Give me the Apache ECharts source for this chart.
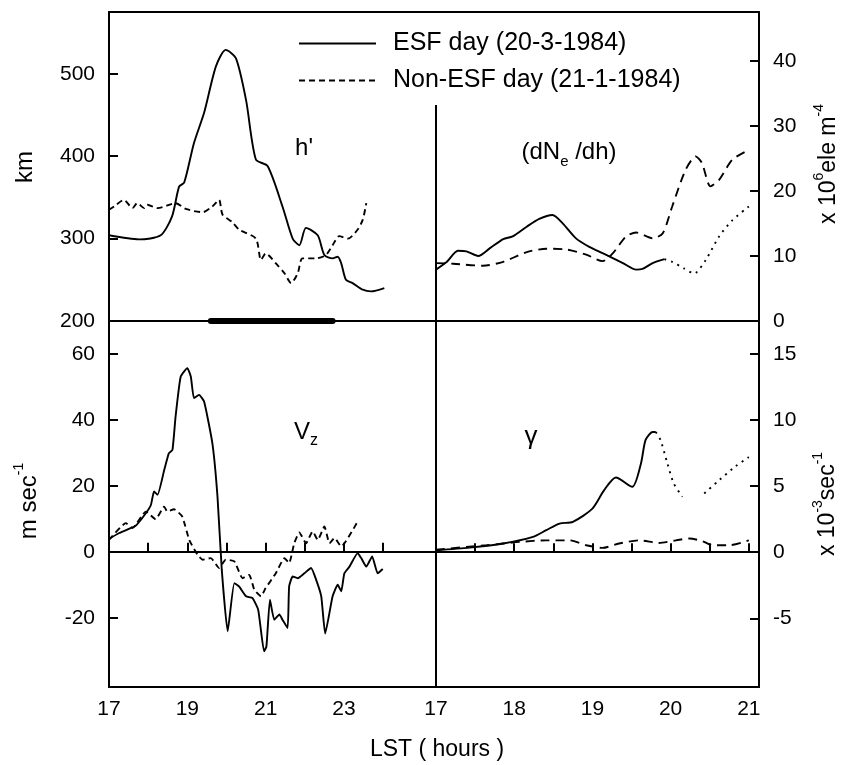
<!DOCTYPE html>
<html>
<head>
<meta charset="utf-8">
<script src="https://cdn.jsdelivr.net/npm/echarts@6/dist/echarts.min.js"></script>
<style>
  html, body { margin: 0; padding: 0; background: #fff; }
  #main { width: 844px; height: 765px; }
</style>
</head>
<body>
<div id="main"></div>
<script>
// 数据：LST (hours) 与各参数
var FONT = 'Liberation Sans';
var ESF = 'ESF day (20-3-1984)';
var NON = 'Non-ESF day (21-1-1984)';

// h' (km)
var hEsfT = [17.0, 17.77, 18.32, 18.61, 18.79, 18.92, 19.17, 19.43, 19.73, 19.98, 20.24, 20.5, 20.75, 21.05, 21.43, 21.69, 21.86, 22.03, 22.33, 22.5, 22.71, 22.84, 22.93, 23.05, 23.22, 23.48, 23.69, 24.03];
var hEsf = [304, 299, 304, 327, 363, 368, 416, 453, 509, 529, 519, 468, 396, 388, 339, 300, 292, 313, 304, 280, 276, 278, 270, 250, 246, 238, 236, 240];
var hNonT = [17.0, 17.13, 17.38, 17.6, 17.72, 17.9, 17.98, 18.24, 18.7, 18.96, 19.39, 19.64, 19.81, 19.9, 20.15, 20.32, 20.75, 20.88, 21.0, 21.26, 21.48, 21.65, 21.82, 21.94, 22.29, 22.54, 22.71, 22.88, 23.1, 23.35, 23.48, 23.57];
var hNon = [335, 339, 347, 337, 343, 337, 341, 337, 343, 336, 332, 339, 347, 329, 320, 311, 300, 274, 282, 270, 258, 246, 258, 276, 276, 280, 292, 303, 300, 311, 323, 343];
var esfPeriod = [19.6, 22.71];

// dNe/dh (x10^6 ele m^-4)
var dEsfT = [17.0, 17.14, 17.28, 17.39, 17.54, 17.69, 17.86, 17.98, 18.16, 18.32, 18.49, 18.62, 18.79, 18.96, 19.17, 19.39, 19.56, 19.64, 19.77, 19.92];
var dEsf = [7.9, 9.1, 10.8, 10.7, 10.0, 11.2, 12.6, 13.0, 14.5, 15.7, 16.3, 15.0, 12.7, 11.4, 10.2, 8.9, 7.9, 8.0, 8.9, 9.5];
var dEsfDotT = [19.92, 20.02, 20.17, 20.3, 20.45, 20.62, 20.79, 21.0];
var dEsfDot = [9.5, 9.1, 8.1, 7.3, 9.4, 13.0, 15.5, 17.6];
var dNonT = [17.0, 17.22, 17.6, 17.86, 18.16, 18.41, 18.66, 18.92, 19.13, 19.26, 19.43, 19.56, 19.77, 19.9, 20.02, 20.19, 20.32, 20.4, 20.51, 20.62, 20.79, 21.0];
var dNon = [8.9, 8.8, 8.5, 9.1, 10.6, 11.1, 11.0, 10.2, 9.2, 10.4, 13.0, 13.6, 12.7, 13.5, 17.6, 23.2, 25.3, 24.3, 20.7, 21.7, 24.8, 26.3];

// Vz (m sec^-1)
var vEsfT = [17.0, 17.26, 17.68, 17.94, 18.07, 18.15, 18.24, 18.41, 18.53, 18.62, 18.7, 18.83, 19.0, 19.09, 19.17, 19.3, 19.43, 19.64, 19.77, 19.88, 20.03, 20.2, 20.32, 20.5, 20.66, 20.81, 20.96, 21.02, 21.11, 21.22, 21.35, 21.43, 21.56, 21.6, 21.69, 21.82, 21.99, 22.16, 22.29, 22.42, 22.52, 22.71, 22.84, 22.93, 23.01, 23.14, 23.35, 23.44, 23.57, 23.72, 23.86, 23.99];
var vEsf = [3.9, 5.7, 7.9, 11.7, 14.2, 18.3, 17.3, 24.8, 29.9, 30.9, 41, 53.1, 55.7, 53.1, 46.6, 47.6, 45.5, 32.9, 16.8, -5.5, -24.1, -9.5, -10.5, -13.5, -14, -17.6, -30.2, -28.7, -14.5, -20.6, -19, -20.6, -23.1, -10.5, -7.5, -8, -6.5, -4.9, -8.5, -13.5, -24.8, -13.5, -10, -12, -6.5, -4.5, -0.4, -1.9, -4.5, -1.4, -6.5, -5.2];
var vNonT = [17.0, 17.43, 17.6, 17.94, 18.19, 18.41, 18.49, 18.66, 18.87, 19.05, 19.26, 19.39, 19.6, 19.81, 19.98, 20.2, 20.41, 20.58, 20.71, 20.88, 21.0, 21.26, 21.48, 21.6, 21.73, 21.86, 22.03, 22.2, 22.33, 22.5, 22.63, 22.76, 22.93, 23.35];
var vNon = [3.6, 8.7, 7.2, 12.2, 9.9, 13.7, 12.2, 12.9, 10.7, 3.6, -0.9, -2.4, -1.9, -4.9, -2.4, -2.9, -8, -7, -11.5, -13.5, -11, -6.5, -1.9, -3.4, 2.6, 5.9, 2.6, 6.2, 3.6, 7.7, 2.6, 4.2, 1.6, 9.2];

// gamma (x10^-3 sec^-1)
var gEsfT = [17.0, 17.43, 17.86, 18.24, 18.41, 18.58, 18.75, 19.0, 19.15, 19.3, 19.51, 19.62, 19.68, 19.77, 19.81];
var gEsf = [0.15, 0.35, 0.66, 1.16, 1.67, 2.17, 2.3, 3.3, 4.7, 5.66, 4.95, 6.7, 8.5, 9.1, 9.1];
var gEsfDotT = [19.81, 19.87, 19.96, 20.04, 20.15, 20.29, 20.43, 20.62, 20.83, 21.0];
var gEsfDot = [9.1, 8.5, 6.7, 5.2, 4.2, null, 4.45, 5.45, 6.5, 7.2];
var gNonT = [17.0, 17.65, 18.07, 18.41, 18.71, 18.92, 19.13, 19.34, 19.6, 19.85, 20.07, 20.24, 20.41, 20.53, 20.75, 21.0];
var gNon = [0.2, 0.53, 0.78, 0.9, 0.9, 0.53, 0.33, 0.66, 0.9, 0.7, 0.9, 1.04, 0.83, 0.53, 0.53, 0.9];

// 刻度
var leftHourLabels = [17, 19, 21, 23];
var leftHourTicks = [18, 19, 20, 21, 22, 23, 24];
var rightHourLabels = [17, 18, 19, 20, 21];
var rightHourTicks = [17.5, 18, 18.5, 19, 19.5, 20, 20.5, 21];
var hLabels = [200, 300, 400, 500];
var hTicks = [300, 400, 500];
var dLabels = [0, 10, 20, 30, 40];
var dTicks = [10, 20, 30, 40];
var vLabels = [-20, 0, 20, 40, 60];
var vTicks = [-20, 20, 40, 60];
var gLabels = [-5, 0, 5, 10, 15];
var gTicks = [-5, 5, 10, 15];

function pairs(t, v) {
	return t.map(function(x, i) { return [x, v[i]]; });
}

var black = '#000';
var lineW = 1.9;

function xAx(grid, min, max, pos, labels, ticks) {
	return {
		type : 'value', gridIndex : grid, min : min, max : max, position : pos,
		splitLine : { show : false },
		axisLine : { show : true, lineStyle : { color : black, width : 2 } },
		axisTick : ticks ? { show : true, inside : true, length : 9, customValues : ticks, lineStyle : { color : black, width : 2 } } : { show : false },
		axisLabel : labels ? { show : true, customValues : labels, margin : 12, color : black, fontFamily : FONT, fontSize : 21 } : { show : false }
	};
}

function yAx(grid, min, max, pos, labels, ticks) {
	return {
		type : 'value', gridIndex : grid, min : min, max : max, position : pos,
		splitLine : { show : false },
		axisLine : { show : true, lineStyle : { color : black, width : 2 } },
		axisTick : { show : true, inside : true, length : 9, customValues : ticks, lineStyle : { color : black, width : 2 } },
		axisLabel : { show : true, customValues : labels, margin : 14, color : black, fontFamily : FONT, fontSize : 21 }
	};
}

function line(name, xi, data, type, extra) {
	var s = {
		name : name, type : 'line', xAxisIndex : xi, yAxisIndex : xi < 4 ? (xi < 2 ? 0 : 1) : xi - 2,
		data : data, symbol : 'none', showSymbol : false, smooth : 0.25, connectNulls : false,
		itemStyle : { color : black },
		lineStyle : { color : black, width : lineW, type : type }
	};
	for (var k in extra) s[k] = extra[k];
	return s;
}

var zeroLine = {
	silent : true, symbol : ['none', 'none'], label : { show : false },
	lineStyle : { color : black, width : 2, type : 'solid' },
	data : [ { yAxis : 0 } ]
};

var myChart = echarts.init(document.getElementById('main'));

var option = {
	animation : false,
	backgroundColor : '#fff',
	grid : [
		{ left : 109, top : 12, width : 327, height : 309 },
		{ left : 436, top : 12, width : 323, height : 309 },
		{ left : 109, top : 321, width : 327, height : 366, show : true, borderColor : black, borderWidth : 2 },
		{ left : 436, top : 321, width : 323, height : 366, show : true, borderColor : black, borderWidth : 2 }
	],
	xAxis : [
		xAx(0, 17, 25.35, 'bottom'),
		xAx(0, 17, 25.35, 'top'),
		xAx(1, 17, 21.13, 'bottom'),
		xAx(1, 17, 21.13, 'top'),
		xAx(2, 17, 25.35, 'bottom', leftHourLabels, leftHourTicks),
		xAx(3, 17, 21.13, 'bottom', rightHourLabels, rightHourTicks)
	],
	yAxis : [
		yAx(0, 200, 575, 'left', hLabels, hTicks),
		yAx(1, 0, 47.5, 'right', dLabels, dTicks),
		yAx(2, -41, 70, 'left', vLabels, vTicks),
		yAx(3, -10.2, 17.5, 'right', gLabels, gTicks)
	],
	legend : {
		left : 293, top : 26, orient : 'vertical',
		itemWidth : 77, itemHeight : 14, itemGap : 12,
		selectedMode : false,
		// 只画线，不画圆点
		itemStyle : { color : 'rgba(0,0,0,0)', borderWidth : 0, opacity : 0 },
		textStyle : { fontFamily : FONT, fontSize : 25, color : black, padding : [0, 0, 0, 12] },
		data : [ESF, NON]
	},
	series : [
		line(ESF, 0, pairs(hEsfT, hEsf), 'solid'),
		line(NON, 0, pairs(hNonT, hNon), [6, 4]),
		line('ESF period', 0, [[esfPeriod[0], 200], [esfPeriod[1], 200]], 'solid', {
			clip : false, z : 5, smooth : false,
			lineStyle : { color : black, width : 6, cap : 'round' }
		}),
		line(ESF, 2, pairs(dEsfT, dEsf), 'solid', {
			markLine : {
				silent : true, symbol : ['none', 'none'], label : { show : false },
				lineStyle : { color : black, width : 2, type : 'solid' },
				data : [[{ coord : [17, 0] }, { coord : [17, 33.2] }]]
			}
		}),
		line('ESF day (dotted)', 2, pairs(dEsfDotT, dEsfDot), [2, 5]),
		line(NON, 2, pairs(dNonT, dNon), [9, 6]),
		line(ESF, 4, pairs(vEsfT, vEsf), 'solid', { smooth : 0.15, markLine : zeroLine }),
		line(NON, 4, pairs(vNonT, vNon), [6, 4], { smooth : 0.15 }),
		line(ESF, 5, pairs(gEsfT, gEsf), 'solid', { markLine : zeroLine }),
		line('ESF day (dotted)', 5, pairs(gEsfDotT, gEsfDot), [2, 5]),
		line(NON, 5, pairs(gNonT, gNon), [9, 6])
	],
	graphic : [
		{ type : 'text', x : 304, y : 148, style : { text : "h'", font : '24px ' + FONT, fill : black, align : 'center', verticalAlign : 'middle', textAlign : 'center', textVerticalAlign : 'middle' } },
		{ type : 'text', x : 569, y : 152, style : {
			text : '{a|(dN}{s|e}{a| /dh)}', fill : black, align : 'center', verticalAlign : 'middle', textAlign : 'center', textVerticalAlign : 'middle',
			rich : { a : { fontFamily : FONT, fontSize : 24, lineHeight : 34, verticalAlign : 'middle' }, s : { fontFamily : FONT, fontSize : 15, verticalAlign : 'bottom' } }
		} },
		{ type : 'text', x : 306, y : 432, style : {
			text : '{a|V}{s|z}', fill : black, align : 'center', verticalAlign : 'middle', textAlign : 'center', textVerticalAlign : 'middle',
			rich : { a : { fontFamily : FONT, fontSize : 24, lineHeight : 34, verticalAlign : 'middle' }, s : { fontFamily : FONT, fontSize : 16, verticalAlign : 'bottom' } }
		} },
		{ type : 'text', x : 531, y : 437, style : { text : 'γ', font : '26px ' + FONT, fill : black, align : 'center', verticalAlign : 'middle', textAlign : 'center', textVerticalAlign : 'middle' } },
		{ type : 'text', x : 25, y : 167, rotation : Math.PI / 2, style : { text : 'km', font : '24px ' + FONT, fill : black, align : 'center', verticalAlign : 'middle', textAlign : 'center', textVerticalAlign : 'middle' } },
		{ type : 'text', x : 29, y : 501, rotation : Math.PI / 2, style : {
			text : '{a|m sec}{s|-1}', fill : black, align : 'center', verticalAlign : 'middle', textAlign : 'center', textVerticalAlign : 'middle',
			rich : { a : { fontFamily : FONT, fontSize : 24, lineHeight : 34, verticalAlign : 'middle' }, s : { fontFamily : FONT, fontSize : 14, verticalAlign : 'top' } }
		} },
		{ type : 'text', x : 829, y : 164, rotation : Math.PI / 2, style : {
			text : '{a|x 10}{s|6}{a|ele m}{s|-4}', fill : black, align : 'center', verticalAlign : 'middle', textAlign : 'center', textVerticalAlign : 'middle',
			rich : { a : { fontFamily : FONT, fontSize : 23, lineHeight : 34, verticalAlign : 'middle' }, s : { fontFamily : FONT, fontSize : 14, verticalAlign : 'top' } }
		} },
		{ type : 'text', x : 828, y : 504, rotation : Math.PI / 2, style : {
			text : '{a|x 10}{s|-3}{a|sec}{s|-1}', fill : black, align : 'center', verticalAlign : 'middle', textAlign : 'center', textVerticalAlign : 'middle',
			rich : { a : { fontFamily : FONT, fontSize : 23, lineHeight : 34, verticalAlign : 'middle' }, s : { fontFamily : FONT, fontSize : 14, verticalAlign : 'top' } }
		} },
		{ type : 'text', x : 437, y : 750, style : { text : 'LST ( hours )', font : '23px ' + FONT, fill : black, align : 'center', verticalAlign : 'middle', textAlign : 'center', textVerticalAlign : 'middle' } }
	]
};

myChart.setOption(option);
</script>
</body>
</html>
